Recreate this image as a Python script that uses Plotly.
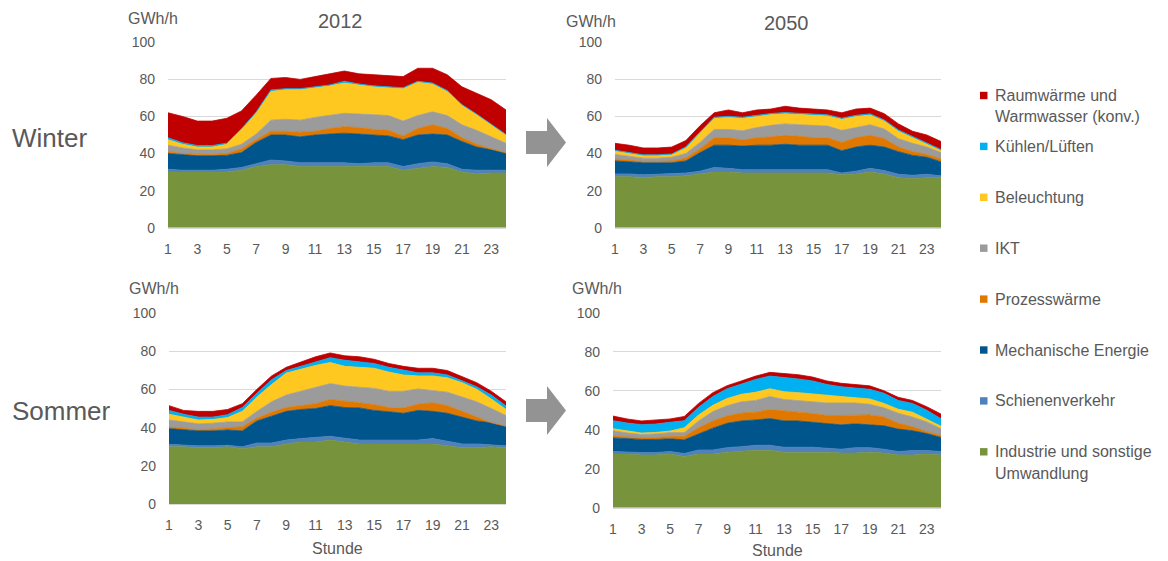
import plotly.graph_objects as go

W, H = 1168, 561
hours = list(range(1, 25))
x_ticks = [1, 3, 5, 7, 9, 11, 13, 15, 17, 19, 21, 23]

names = ["Industrie und sonstige Umwandlung", "Schienenverkehr", "Mechanische Energie",
         "Prozesswärme", "IKT", "Beleuchtung", "Kühlen/Lüften", "Raumwärme und Warmwasser (konv.)"]
colors = ["#77933C", "#4F81BD", "#00558C", "#E07800", "#9B9B9B", "#FFC820", "#00B0F0", "#C00000"]

# Upper edge of each stacked layer (cumulative GWh/h).
# --- Winter 2012 ---
w12_industrie = [30, 30, 30, 30, 30, 31, 33, 34, 34, 33, 33, 33, 33, 33, 33, 33, 31, 32, 33, 32.5, 30, 29, 29.5, 29.5]
w12_schiene = [31.5, 31, 31, 31, 31.5, 32.5, 34.5, 36.5, 36, 35, 35, 35, 35, 34.5, 35, 35, 33, 34.5, 35.5, 34.5, 31.5, 31, 31, 31]
w12_mech = [40, 39.5, 38.8, 38.8, 39, 40.5, 46, 50, 50, 49, 50, 50.5, 51, 50.5, 50, 49.5, 47.5, 50, 50.5, 50, 46.5, 43.5, 42, 40]
w12_prozess = [41, 40, 39.5, 39.5, 40, 42.5, 47.5, 52, 52, 51.5, 52, 53.5, 54.5, 54, 53, 52.5, 49.5, 53.5, 55.5, 53.5, 48.5, 45, 42.5, 40.5]
w12_ikt = [44.5, 43, 42, 42, 42.5, 45, 50.5, 58, 58.5, 58, 59.5, 60.5, 61.7, 61.3, 61, 60.5, 57.5, 60.5, 62.5, 60.5, 55.5, 52.5, 49, 45.5]
w12_licht = [47.5, 45, 43.5, 43.5, 45, 53, 62, 73.5, 74.5, 74.5, 75.5, 76.5, 78, 77, 76, 75.5, 75, 78.5, 77.5, 73.5, 66, 61, 55.5, 50]
w12_kuehl = [48.5, 45.8, 44.3, 44.3, 45.6, 53.4, 62.4, 74.3, 75, 75, 76, 77, 79, 77.5, 76.5, 76, 75.5, 79, 78, 74, 66.4, 61.3, 55.8, 50.3]
w12_raum = [62, 60, 57.5, 57.5, 59, 63, 71.5, 80.5, 81, 80, 81.5, 83, 84.5, 83, 82.5, 82, 81.5, 86, 86, 82.5, 76, 72.5, 69, 63.5]

# --- Winter 2050 ---
w50_industrie = [27.5, 27.5, 27, 27.5, 27.5, 28, 29, 30, 30, 29.5, 29.5, 29.5, 29.5, 29.5, 29.5, 29.5, 28.5, 29, 30, 29, 27, 26.5, 27, 27]
w50_schiene = [29, 29, 28.5, 28.8, 29, 29.5, 30.5, 32.5, 32, 31.3, 31.3, 31.3, 31.3, 31, 31.3, 31.3, 29.5, 30.5, 32, 30.8, 28.8, 28.3, 28.8, 28]
w50_mech = [36, 35.5, 35, 35, 35, 36, 40.5, 44.5, 44.5, 44, 44.5, 44.5, 45, 44.5, 44.5, 44.5, 41.5, 43.5, 44.5, 43.5, 41, 39, 38, 35.5]
w50_prozess = [37, 36.5, 35.8, 35.8, 36, 37.5, 42.5, 48.5, 48.5, 47.3, 48.5, 49, 49.8, 49.3, 48.5, 48.5, 46, 48.5, 49.8, 48, 43.5, 41, 39.5, 37]
w50_ikt = [39.5, 38.5, 37.5, 37.5, 38, 40, 46, 53, 53, 52.3, 54, 55.2, 56, 55.5, 55, 54.8, 52.5, 54, 55.5, 53.2, 48, 45.5, 43.5, 40.5]
w50_licht = [41.3, 40, 38.8, 38.8, 39.3, 43, 51, 59, 59.5, 59, 60, 61, 61.5, 61, 60.5, 60.3, 58.5, 60, 60.8, 57.5, 52, 48.3, 45, 41.5]
w50_kuehl = [41.8, 40.5, 39.3, 39.3, 39.8, 43.6, 51.6, 59.6, 60.1, 59.6, 60.6, 61.6, 62.1, 61.6, 61.1, 60.9, 59.1, 60.6, 61.4, 58.1, 52.7, 49, 45.7, 42.2]
w50_raum = [45.5, 44.5, 43, 43, 43.5, 47, 55, 62, 63.5, 62, 63.5, 64, 65.5, 64.5, 64, 63.5, 62, 64, 64.5, 61.5, 56, 52, 50, 46.5]

# --- Sommer 2012 ---
s12_industrie = [30, 30, 29.5, 29.5, 30, 29, 30, 30, 31.5, 32.5, 32.5, 33.5, 32.5, 31.5, 31.5, 31.5, 31.5, 31.5, 31.5, 30.5, 29.5, 29.5, 30, 29.5]
s12_schiene = [31.3, 30.8, 30.5, 30.5, 30.8, 30, 32, 32, 33.5, 34.3, 34.8, 35.5, 34.5, 33.5, 33.5, 33.5, 33.5, 33.5, 34.3, 32.8, 31.5, 31.5, 31, 30.5]
s12_mech = [39.5, 38.8, 38.3, 38.3, 38.8, 38.3, 43.5, 46, 48.5, 49.5, 50, 51.5, 50.5, 50.3, 49, 48.3, 47.5, 49, 48.5, 47.5, 45.5, 43.5, 42.5, 40.5]
s12_prozess = [40.3, 39.5, 39, 39.3, 40, 40.5, 45, 48, 50.5, 51.5, 52.5, 54.7, 54, 53, 52, 50.5, 50.2, 52.2, 53, 51.5, 48.5, 45.5, 42.5, 40.8]
s12_ikt = [44, 43, 42, 42.3, 43, 43, 48.5, 53.5, 57, 59, 61, 63, 61.7, 61, 60.5, 59, 59, 60.2, 59.5, 58.5, 56, 53.5, 50, 46.3]
s12_licht = [47, 45.5, 44, 44.3, 45.3, 48.5, 56, 62.5, 68.5, 70.5, 72.5, 74, 72, 71.5, 71, 69, 67.5, 67, 67, 66, 63.5, 60, 55, 49.5]
s12_kuehl = [49, 47, 45.5, 45.5, 46.8, 50.5, 58, 65, 69.8, 72, 74.5, 76.5, 75.2, 74.5, 73.5, 71.5, 70, 68.6, 68.6, 67.5, 64.5, 61.3, 57, 51.3]
s12_raum = [51.5, 49, 48.5, 48.5, 49.5, 52.5, 60, 67, 71.5, 74.3, 77, 79, 77.5, 77, 75.7, 73.5, 72, 71, 71, 69.8, 66.5, 63.5, 59, 53.5]

# --- Sommer 2050 ---
s50_industrie = [27.5, 27.5, 27, 27, 27.5, 26.3, 27.5, 27.5, 28.5, 29, 29.5, 29.5, 28.5, 28.5, 28.5, 28.5, 28, 28, 28.5, 28, 27, 27, 27.5, 27]
s50_schiene = [28.8, 28.5, 28.3, 28.3, 28.8, 27.8, 29.6, 29.6, 30.8, 31.3, 32, 32, 31, 31, 31, 30.5, 30, 30.8, 30.8, 30, 28.8, 29.3, 29.3, 28.8]
s50_mech = [35.8, 35.3, 35, 35, 35.3, 34.8, 38, 40.8, 43.3, 44.5, 45, 45.7, 44.5, 44.5, 43.8, 43.2, 42.5, 43, 42.5, 42, 40.3, 39.5, 38, 36]
s50_prozess = [36.8, 36.3, 35.8, 36, 36.5, 36.5, 41, 44.5, 47, 48.5, 49, 50.3, 49.5, 49, 48.3, 47.3, 47.3, 47.6, 47.6, 46.5, 43.3, 41.5, 39, 37]
s50_ikt = [39.5, 38.3, 37.5, 37.8, 38.5, 38.5, 44.5, 49.3, 52.3, 54.3, 55, 57, 55.5, 55, 54.3, 53.7, 53.7, 53.7, 53, 51.2, 48.5, 46.5, 44, 40.5]
s50_licht = [40.5, 39.3, 38.3, 38.6, 39.3, 41, 47.5, 52.5, 56, 58.2, 59.2, 61, 59.5, 59, 58.2, 57.7, 57, 56.5, 55.8, 53.5, 50.5, 49, 45.5, 41.8]
s50_kuehl = [44.6, 43.4, 42.6, 42.9, 43.8, 44.6, 51.5, 57, 61, 63.5, 65.8, 67.5, 66.8, 66, 65, 63.2, 62, 61.5, 60.7, 58.7, 55, 53.5, 50, 45.6]
s50_raum = [47, 45.5, 44.5, 45, 45.5, 46.8, 53.5, 59, 62.6, 65, 67.5, 69.4, 68.8, 68.2, 67, 65, 63.8, 63.2, 62.5, 60, 56.6, 55, 51.8, 48]

panels = [
    [w12_industrie, w12_schiene, w12_mech, w12_prozess, w12_ikt, w12_licht, w12_kuehl, w12_raum],
    [w50_industrie, w50_schiene, w50_mech, w50_prozess, w50_ikt, w50_licht, w50_kuehl, w50_raum],
    [s12_industrie, s12_schiene, s12_mech, s12_prozess, s12_ikt, s12_licht, s12_kuehl, s12_raum],
    [s50_industrie, s50_schiene, s50_mech, s50_prozess, s50_ikt, s50_licht, s50_kuehl, s50_raum],
]

# plot-area boxes in pixels (left, right, top, bottom)
boxes = [(168, 506, 42.3, 227.7), (615, 941, 42.3, 227.7),
         (169, 506, 312.7, 504.3), (613, 941, 312.7, 507.7)]


def px(x):
    return x / W


def py(y):
    return 1 - y / H


TXT = "#595959"
FONT = "Liberation Sans, Arial, sans-serif"

fig = go.Figure()
for p, layers in enumerate(panels):
    xa = "x" if p == 0 else f"x{p + 1}"
    ya = "y" if p == 0 else f"y{p + 1}"
    for i, top in enumerate(layers):
        fig.add_trace(go.Scatter(
            x=hours, y=top, xaxis=xa, yaxis=ya, mode="lines",
            line=dict(color=colors[i], width=0.8),
            fill="tozeroy" if i == 0 else "tonexty",
            fillcolor=colors[i], name=names[i], showlegend=False,
            hoverinfo="x+y+name"))

layout = dict(autosize=True, margin=dict(l=0, r=0, t=0, b=0, autoexpand=False),
              paper_bgcolor="white", plot_bgcolor="white",
              font=dict(family=FONT, color=TXT, size=14))
for p, (l, r, t, b) in enumerate(boxes):
    sx = "" if p == 0 else str(p + 1)
    layout["xaxis" + sx] = dict(domain=[px(l), px(r)], range=[1, 24], anchor="y" + sx,
                                tickvals=x_ticks, showgrid=False, zeroline=False,
                                showline=True, linecolor="#D9D9D9", linewidth=1,
                                ticks="", ticklabelstandoff=8, automargin=False,
                                tickfont=dict(size=14, color=TXT, family=FONT))
    layout["yaxis" + sx] = dict(domain=[py(b), py(t)], range=[0, 100], anchor="x" + sx,
                                tickvals=[0, 20, 40, 60, 80, 100], showgrid=True,
                                gridcolor="#D9D9D9", gridwidth=1, zeroline=False,
                                ticks="", ticklabelstandoff=12, automargin=False,
                                tickfont=dict(size=14, color=TXT, family=FONT))
fig.update_layout(**layout)

ann = []


def text(x, y, s, size, xanchor="center"):
    ann.append(dict(x=px(x), y=py(y), xref="paper", yref="paper", text=s, showarrow=False,
                    xanchor=xanchor, yanchor="middle", font=dict(size=size, color=TXT, family=FONT)))


text(340, 21, "2012", 20)
text(786, 23, "2050", 20)
for (gx, gy) in [(153, 18), (591, 22), (154, 288), (597, 288)]:
    text(gx, gy, "GWh/h", 16)
text(10, 138, "Winter", 26, "left")
text(10, 411, "Sommer", 26, "left")
text(337, 548, "Stunde", 16)
text(777, 550, "Stunde", 16)

# legend (top entry = top layer)
shapes = []
leg_lines = [["Raumwärme und", "Warmwasser (konv.)"], ["Kühlen/Lüften"], ["Beleuchtung"], ["IKT"],
             ["Prozesswärme"], ["Mechanische Energie"], ["Schienenverkehr"],
             ["Industrie und sonstige", "Umwandlung"]]
for k in range(8):
    yc = 95.5 + 50.9 * k
    ci = 7 - k
    shapes.append(dict(type="rect", xref="paper", yref="paper", x0=px(980), x1=px(987.5),
                       y0=py(yc + 3.7), y1=py(yc - 3.7), fillcolor=colors[ci], line=dict(width=0)))
    for j, s in enumerate(leg_lines[k]):
        text(993, yc + 21.5 * j, s, 16, "left")


def arrow(cy):
    pts = [(526, cy - 11.5), (547, cy - 11.5), (547, cy - 24.5), (566, cy),
           (547, cy + 24.5), (547, cy + 11.5), (526, cy + 11.5)]
    path = "M " + " L ".join(f"{px(a):.5f},{py(b):.5f}" for a, b in pts) + " Z"
    return dict(type="path", xref="paper", yref="paper", path=path,
                fillcolor="#939393", line=dict(width=0))


shapes.append(arrow(142.5))
shapes.append(arrow(410.5))
fig.update_layout(annotations=ann, shapes=shapes)

# remove the page's default 8 px body margin so the figure fills the 1168x561 window
post = ("document.body.style.margin='0px';"
        "document.documentElement.style.overflow='hidden';"
        "Plotly.Plots.resize(document.getElementById('{plot_id}'));")
fig.write_html("out.html", post_script=post, config={"displayModeBar": False})
